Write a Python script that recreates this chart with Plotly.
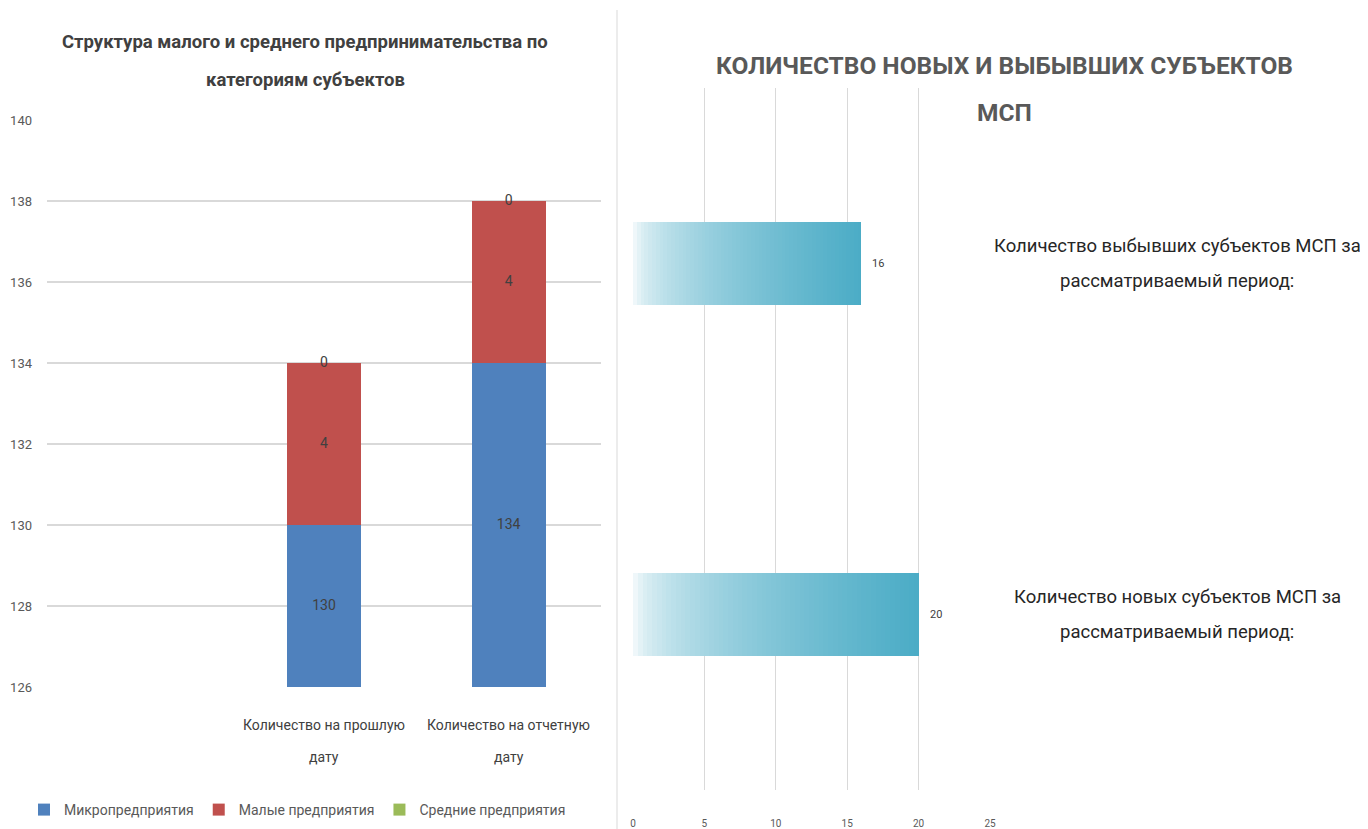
import plotly.graph_objects as go

# ---------------- data ----------------
left_categories = [" ", "Количество на прошлую<br>дату", "Количество на отчетную<br>дату"]
micro = [None, 130, 134]
small = [None, 4, 4]
medium = [None, 0, 0]
series_names = ["Микропредприятия", "Малые предприятия", "Средние предприятия"]
series_colors = ["#4F81BD", "#C0504D", "#9BBB59"]
left_yticks = [126, 128, 130, 132, 134, 136, 138, 140]

right_categories = ["Количество новых субъектов МСП за<br>рассматриваемый период:",
                    "Количество выбывших субъектов МСП за<br>рассматриваемый период:"]
right_values = [20, 16]
right_xticks = [0, 5, 10, 15, 20, 25]

FONT = "Roboto, Open Sans, sans-serif"
W, H = 1368, 829
OFF = 8  # page body margin
LABEL_COLOR = "#404040"

def px_x(p):
    return (p - OFF) / W

def px_y(p):
    return 1 - (p - OFF) / H

fig = go.Figure()

# ---------------- left: stacked bars ----------------
y_min = left_yticks[0]
for name, vals, col in zip(series_names, [micro, small, medium], series_colors):
    fig.add_trace(go.Bar(
        x=left_categories, y=vals, name=name, marker_color=col,
        marker_line_width=0, width=0.4,
        xaxis="x", yaxis="y", hoverinfo="skip",
    ))

# data labels: centred in the visible part of each segment
label_x, label_y, label_t = [], [], []
for i, cat in enumerate(left_categories):
    if micro[i] is None:
        continue
    base = 0
    for vals in (micro, small, medium):
        v = vals[i]
        lo = max(base, y_min)
        hi = base + v
        label_x.append(cat)
        label_y.append((lo + hi) / 2)
        label_t.append(str(v))
        base = hi
fig.add_trace(go.Scatter(
    x=label_x, y=label_y, mode="text", text=label_t,
    textposition="middle center",
    textfont=dict(color=LABEL_COLOR, size=14, family=FONT),
    showlegend=False, xaxis="x", yaxis="y", hoverinfo="skip",
))

# category labels of the left chart, line by line (wider line spacing)
for cat in left_categories:
    for j, line in enumerate(cat.split("<br>")):
        if not line.strip():
            continue
        fig.add_annotation(
            x=cat, xref="x", y=px_y(725 + 32 * j), yref="paper", text=line,
            showarrow=False, xanchor="center", yanchor="middle",
            font=dict(family=FONT, size=14, color=LABEL_COLOR),
        )

# ---------------- right: gradient horizontal bars ----------------
N = 60
c0 = (255, 255, 255)
c1 = (75, 172, 198)
for k in range(N):
    t = ((k + 0.5) / N) ** 0.5
    rgb = tuple(int(round(a + (b - a) * t)) for a, b in zip(c0, c1))
    fig.add_trace(go.Bar(
        y=right_categories, x=[v / N for v in right_values], orientation="h",
        marker_color="rgb(%d,%d,%d)" % rgb, marker_line_width=0,
        width=0.235, showlegend=False, xaxis="x2", yaxis="y2", hoverinfo="skip",
    ))

# value labels
for cat, v in zip(right_categories, right_values):
    fig.add_annotation(
        x=v, y=cat, xref="x2", yref="y2", text=str(v), showarrow=False,
        xanchor="left", yanchor="middle", xshift=9,
        font=dict(family=FONT, size=11, color=LABEL_COLOR),
    )

# right-side category labels, line by line
for cat in right_categories:
    lines = cat.split("<br>")
    n = len(lines)
    for j, line in enumerate(lines):
        fig.add_annotation(
            x=px_x(1177), xref="paper", y=cat, yref="y2", text=line,
            showarrow=False, align="center", xanchor="center", yanchor="middle",
            yshift=-35 * (j - (n - 1) / 2),
            font=dict(family=FONT, size=18.5, color="#262626"),
        )

# titles
for txt, cx, cy, size, col in [
    ("<b>Структура малого и среднего предпринимательства по</b>", 305, 42, 18.5, "#404040"),
    ("<b>категориям субъектов</b>", 305, 80, 18.5, "#404040"),
    ("<b>КОЛИЧЕСТВО НОВЫХ И ВЫБЫВШИХ СУБЪЕКТОВ</b>", 1005, 65, 24.5, "#595959"),
    ("<b>МСП</b>", 1005, 113, 24.5, "#595959"),
]:
    fig.add_annotation(x=px_x(cx), y=px_y(cy), xref="paper", yref="paper",
                       xanchor="center", yanchor="middle",
                       text=txt, showarrow=False,
                       font=dict(family=FONT, size=size, color=col))

# separator line
fig.add_shape(type="line", xref="paper", yref="paper",
              x0=px_x(617), x1=px_x(617), y0=px_y(10), y1=0,
              line=dict(color="#d9d9d9", width=1))

fig.update_layout(
    width=W, height=H,
    margin=dict(l=0, r=0, t=0, b=0, autoexpand=False),
    paper_bgcolor="white", plot_bgcolor="white",
    barmode="stack", bargap=0,
    font=dict(family=FONT, color="#595959"),
    xaxis=dict(domain=[px_x(47), px_x(601)], type="category",
               categoryorder="array", categoryarray=left_categories,
               showgrid=False, zeroline=False, showline=False,
               showticklabels=False, ticks="", automargin=False),
    yaxis=dict(domain=[px_y(687), px_y(120)], range=[126, 140],
               tickvals=left_yticks, showgrid=True, gridcolor="#d9d9d9",
               gridwidth=1.5, zeroline=False, showline=False,
               tickfont=dict(size=13, color="#595959", family=FONT),
               ticks="", ticklabelstandoff=14, automargin=False),
    xaxis2=dict(domain=[px_x(633), px_x(990)], range=[0, 25],
                tickvals=right_xticks, showgrid=True, gridcolor="#d9d9d9",
                zeroline=False, showline=False, anchor="y2",
                tickfont=dict(size=10, color="#595959", family=FONT),
                ticks="", ticklabelstandoff=26, automargin=False),
    yaxis2=dict(domain=[px_y(790), px_y(88)], range=[-0.5, 1.5],
                type="category", categoryorder="array",
                categoryarray=right_categories, anchor="x2",
                showticklabels=False, showgrid=False, zeroline=False,
                showline=False, automargin=False),
    legend=dict(orientation="h", x=px_x(24), y=px_y(810),
                xanchor="left", yanchor="middle", traceorder="normal",
                font=dict(size=14, color="#595959", family=FONT),
                itemwidth=30, bgcolor="rgba(0,0,0,0)"),
)

fig.write_html("out.html")
